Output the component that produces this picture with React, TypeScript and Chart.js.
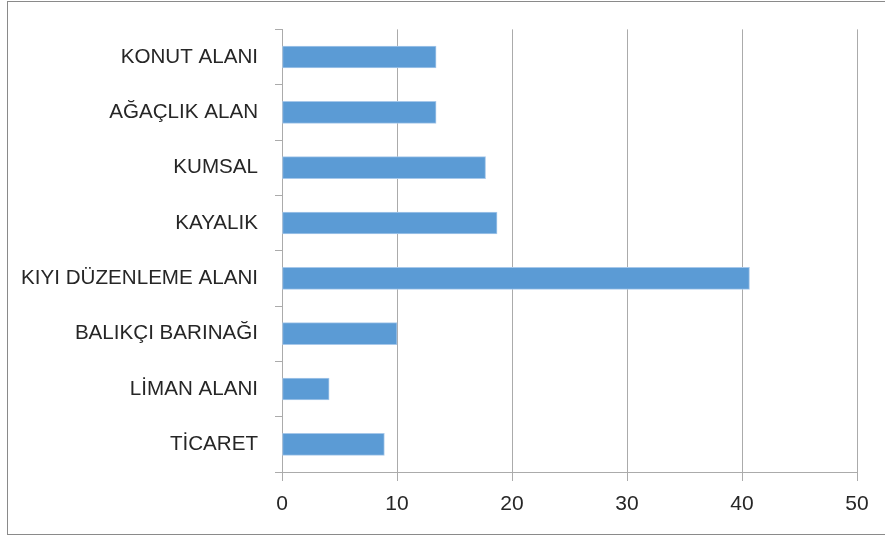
import React, { useEffect, useRef } from "react";
import { Chart, registerables } from "chart.js";

Chart.register(...registerables);

const categories = [
  "KONUT ALANI",
  "AĞAÇLIK ALAN",
  "KUMSAL",
  "KAYALIK",
  "KIYI DÜZENLEME ALANI",
  "BALIKÇI BARINAĞI",
  "LİMAN ALANI",
  "TİCARET",
];
const values = [13.4, 13.4, 17.7, 18.7, 40.65, 10.0, 4.1, 8.9];
const xMin = 0;
const xMax = 50;
const xStep = 10;

const GRID = "#ABABAB";
const TEXT = "#262626";
const FONT = "'Liberation Sans', Arial, sans-serif";

export default function App() {
  const ref = useRef<HTMLCanvasElement | null>(null);

  useEffect(() => {
    if (!ref.current) return;
    const chart = new Chart(ref.current, {
      type: "bar",
      data: {
        labels: categories,
        datasets: [
          {
            data: values,
            backgroundColor: "#5B9BD5",
            borderColor: "#A7C8EA",
            borderWidth: 1,
            borderSkipped: false,
            barThickness: 22,
          },
        ],
      },
      options: {
        indexAxis: "y",
        responsive: false,
        animation: false,
        devicePixelRatio: 1,
        layout: { padding: { top: 28, right: 28, left: 0, bottom: 0 } },
        plugins: {
          legend: { display: false },
          tooltip: { enabled: false },
        },
        scales: {
          x: {
            min: xMin,
            max: xMax,
            ticks: {
              stepSize: xStep,
              color: TEXT,
              padding: 11,
              font: { family: FONT, size: 21 },
            },
            grid: {
              color: GRID,
              lineWidth: 1,
              drawOnChartArea: true,
              drawTicks: true,
              tickLength: 9,
            },
            border: { display: true, color: GRID, width: 1 },
            afterFit: (scale: any) => {
              scale.height = 64;
            },
          },
          y: {
            ticks: {
              color: TEXT,
              padding: 17,
              font: { family: FONT, size: 20.6 },
            },
            grid: {
              color: GRID,
              lineWidth: 1,
              offset: true,
              drawOnChartArea: false,
              drawTicks: true,
              tickLength: 7,
            },
            border: { display: true, color: GRID, width: 1 },
            afterFit: (scale: any) => {
              scale.width = 282;
            },
          },
        },
      },
    });
    return () => chart.destroy();
  }, []);

  return (
    <div
      style={{
        position: "fixed",
        left: 0,
        top: 0,
        width: 885,
        height: 536,
        overflow: "hidden",
        background: "#fff",
      }}
    >
      <canvas
        ref={ref}
        width={885}
        height={536}
        style={{ position: "absolute", left: 0, top: 0, width: 885, height: 536 }}
      />
      <div
        style={{
          position: "absolute",
          left: 7,
          top: 1,
          width: 1000,
          height: 534,
          borderLeft: "1.5px solid #8A8A8A",
          borderTop: "1.5px solid #8A8A8A",
          borderBottom: "1.5px solid #8A8A8A",
          pointerEvents: "none",
          boxSizing: "border-box",
        }}
      />
    </div>
  );
}
